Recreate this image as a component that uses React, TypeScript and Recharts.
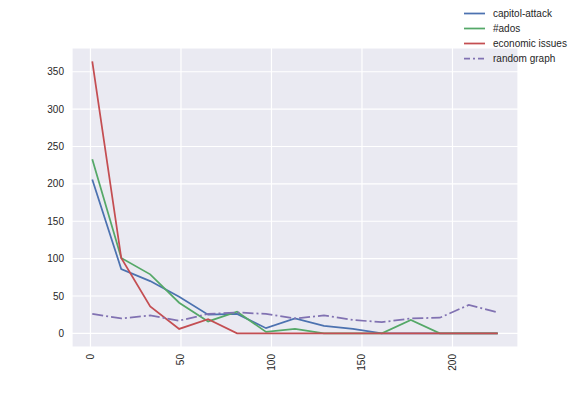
import React from "react";
import { LineChart, Line, XAxis, YAxis, CartesianGrid, Legend } from "recharts";

const xValues = [1, 17, 33, 49, 65, 81, 97, 113, 129, 145, 161, 177, 193, 209, 225];
const capitolAttack = [206, 86, 70, 49, 25, 26, 7, 20, 10, 6, 0, 0, 0, 0, 0];
const ados = [233, 101, 79, 41, 16, 29, 2, 6, 0, 0, 0, 18, 0, 0, 0];
const economicIssues = [364, 101, 36, 6, 19, 0, 0, 0, 0, 0, 0, 0, 0, 0, 0];
const randomGraph = [26, 20, 24, 17, 26, 28, 26, 20, 24, 18, 15, 20, 21, 38, 28];

const xTicks = [0, 50, 100, 150, 200];
const yTicks = [0, 50, 100, 150, 200, 250, 300, 350];

const seriesInfo = [
  { key: "capitol", name: "capitol-attack", color: "#4C72B0", dash: undefined as string | undefined },
  { key: "ados", name: "#ados", color: "#55A868", dash: undefined as string | undefined },
  { key: "econ", name: "economic issues", color: "#C44E52", dash: undefined as string | undefined },
  { key: "random", name: "random graph", color: "#8172B2", dash: "11 3 2 3" },
];

const data = xValues.map((x, i) => ({
  x,
  capitol: capitolAttack[i],
  ados: ados[i],
  econ: economicIssues[i],
  random: randomGraph[i],
}));

const FONT = "'Liberation Sans', Arial, sans-serif";
const TEXT = "#262626";

const XTick = (props: any) => {
  const { x, y, payload } = props;
  return (
    <text
      x={x}
      y={y + 7}
      transform={`rotate(-90, ${x}, ${y + 7})`}
      textAnchor="end"
      dy="0.35em"
      fontSize={10}
      fontFamily={FONT}
      fill={TEXT}
    >
      {payload.value}
    </text>
  );
};

const LegendContent = () => (
  <div style={{ fontFamily: FONT, fontSize: 10, color: TEXT }}>
    {seriesInfo.map((s) => (
      <div key={s.key} style={{ display: "flex", alignItems: "center", height: 15 }}>
        <svg width={21} height={15} style={{ display: "block" }}>
          <line x1={0} x2={21} y1={7.5} y2={7.5} stroke={s.color} strokeWidth={1.75} strokeDasharray={s.dash ? "6 3 2 3" : undefined} />
        </svg>
        <span style={{ marginLeft: 8, whiteSpace: "nowrap" }}>{s.name}</span>
      </div>
    ))}
  </div>
);

export default function App() {
  return (
    <div style={{ position: "absolute", left: 0, top: 0, width: 576, height: 396, background: "#fff" }}>
      <LineChart
        width={576}
        height={396}
        data={data}
        margin={{ top: 48, right: 58, bottom: 19, left: 32 }}
        style={{ fontFamily: FONT }}
      >
        <CartesianGrid fill="#EAEAF2" stroke="#ffffff" strokeWidth={1.2} />
        <XAxis
          dataKey="x"
          type="number"
          domain={[-10.2, 236.2]}
          ticks={xTicks}
          allowDataOverflow
          axisLine={false}
          tickLine={false}
          tickSize={0}
          tickMargin={0}
          height={30}
          interval={0}
          tick={<XTick />}
        />
        <YAxis
          type="number"
          domain={[-18.2, 381.8]}
          ticks={yTicks}
          allowDataOverflow
          axisLine={false}
          tickLine={false}
          tickSize={0}
          tickMargin={8}
          width={40}
          interval={0}
          tick={{ fontSize: 10, fill: TEXT, fontFamily: FONT }}
        />
        <Legend
          layout="vertical"
          align="center"
          verticalAlign="middle"
          wrapperStyle={{ top: 6, left: 464, width: 112 }}
          content={<LegendContent />}
        />
        {seriesInfo.map((s) => (
          <Line
            key={s.key}
            dataKey={s.key}
            name={s.name}
            stroke={s.color}
            strokeWidth={1.75}
            strokeDasharray={s.dash}
            dot={false}
            activeDot={false}
            isAnimationActive={false}
            type="linear"
          />
        ))}
      </LineChart>
    </div>
  );
}
